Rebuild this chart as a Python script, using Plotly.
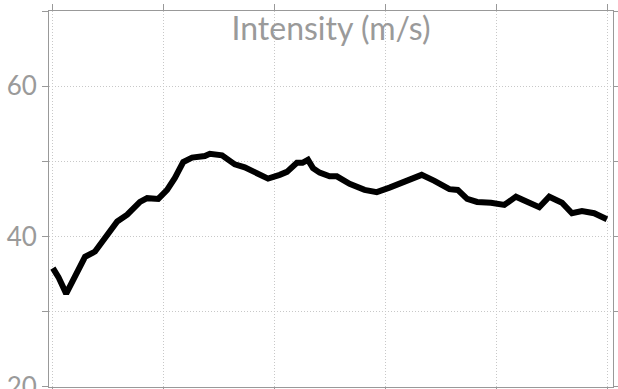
import plotly.graph_objects as go

# time index (0-100) and intensity values (m/s)
t = [0, 1, 2.4, 4, 5.8, 7.6, 9.4, 11.6, 13.4, 15.7, 17, 19, 20.6, 22, 23.5, 25.1,
     27.4, 28.3, 30.5, 32.8, 34.6, 36.4, 38.8, 40.9, 42.2, 44, 45, 46, 46.9, 48.1,
     49.9, 51.2, 53.5, 56.2, 58.4, 60.7, 63.4, 66.5, 68.8, 71.5, 73, 74.7, 76.5, 79,
     81.4, 83.5, 85.3, 87.7, 89.5, 91.8, 93.6, 95.4, 97.6, 99.9]
intensity = [35.8, 34.6, 32.4, 34.9, 37.3, 38.0, 39.8, 42.0, 42.9, 44.6, 45.1, 45.0,
             46.2, 47.8, 49.9, 50.5, 50.7, 51.0, 50.8, 49.6, 49.2, 48.6, 47.7, 48.2,
             48.6, 49.8, 49.8, 50.2, 49.1, 48.5, 48.0, 48.0, 47.0, 46.2, 45.9, 46.5,
             47.3, 48.2, 47.4, 46.3, 46.2, 45.0, 44.6, 44.5, 44.2, 45.3, 44.7, 43.9,
             45.3, 44.5, 43.1, 43.4, 43.1, 42.3]

y_ticks = [20, 30, 40, 50, 60, 70]
y_tick_labels = ["20", "", "40", "", "60", ""]
x_ticks = [0, 20, 40, 60, 80, 100]

FONT = "Lato"
GRAY = "#9a9a9a"

fig = go.Figure()
fig.add_trace(go.Scatter(x=t, y=intensity, mode="lines",
                         line=dict(color="black", width=6), showlegend=False))

fig.update_layout(
    width=618, height=389,
    margin=dict(l=49, r=5, t=11, b=2),
    paper_bgcolor="white", plot_bgcolor="white",
    title=dict(text="Intensity (m/s)", x=0.5, xanchor="center", xref="paper",
               y=1 - 29 / 389, yanchor="middle", yref="container",
               font=dict(family=FONT, size=32, color=GRAY)),
    font=dict(family=FONT, color=GRAY),
)
fig.update_xaxes(range=[-0.7, 101.0], tickvals=x_ticks, showticklabels=False,
                 showgrid=True, gridcolor="#c8c8c8", griddash="1px,2px", gridwidth=1,
                 showline=True, linecolor="#999999", linewidth=1, mirror="ticks",
                 ticks="outside", ticklen=6, tickcolor="#999999", zeroline=False,
                 automargin=False)
fig.update_yaxes(range=[19.98, 70], tickvals=y_ticks, ticktext=y_tick_labels,
                 tickfont=dict(family=FONT, size=26, color=GRAY),
                 ticklabeloverflow="allow",
                 showgrid=True, gridcolor="#c8c8c8", griddash="1px,2px", gridwidth=1,
                 showline=True, linecolor="#999999", linewidth=1, mirror="ticks",
                 ticks="outside", ticklen=6, tickcolor="#999999", zeroline=False,
                 automargin=False)

fig.write_html("out.html")
